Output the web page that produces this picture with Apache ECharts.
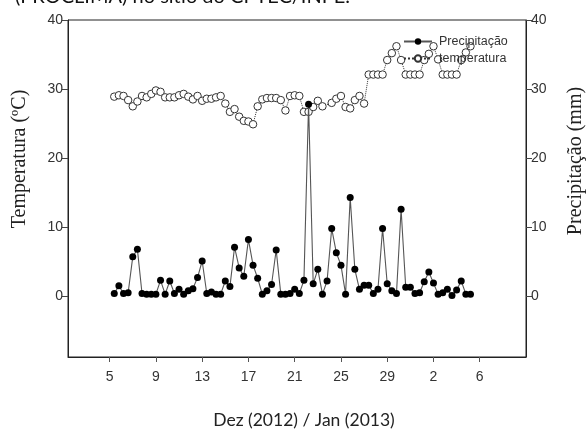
<!DOCTYPE html>
<html>
<head>
<meta charset="utf-8">
<title>Temperatura e Precipitação</title>
<script src="https://cdn.jsdelivr.net/npm/echarts@6/dist/echarts.min.js"></script>
<style>
  html, body { margin: 0; padding: 0; background: #fff; }
  #mychart { width: 587px; height: 430px; }
</style>
</head>
<body>
<div id="mychart"></div>
<script>
// eixo x: posição de cada rótulo (nº da leitura) e o texto do rótulo
var xTickPos = [0, 10, 20, 30, 40, 50, 60, 70, 80];
var xTickLabels = ['5', '9', '13', '17', '21', '25', '29', '2', '6'];
var yTicks = [0, 10, 20, 30, 40];

// precipitação (mm), uma leitura por posição
var precipitacao = [
  0.4, 1.5, 0.4, 0.5, 5.7, 6.8, 0.4, 0.3, 0.3, 0.3,
  2.3, 0.3, 2.2, 0.4, 1.0, 0.3, 0.8, 1.1, 2.7, 5.1,
  0.4, 0.6, 0.3, 0.3, 2.2, 1.4, 7.1, 4.1, 2.9, 8.2,
  4.5, 2.6, 0.3, 0.8, 1.7, 6.7, 0.3, 0.3, 0.4, 1.0,
  0.4, 2.3, 27.8, 1.8, 3.9, 0.3, 2.2, 9.8, 6.3, 4.5,
  0.3, 14.3, 3.9, 1.0, 1.6, 1.6, 0.4, 1.0, 9.8, 1.8,
  0.8, 0.4, 12.6, 1.3, 1.3, 0.4, 0.5, 2.1, 3.5, 1.9,
  0.3, 0.5, 1.0, 0.1, 0.9, 2.2, 0.3, 0.3
];

// temperatura (ºC), '-' = sem leitura
var temperatura = [
  28.9, 29.1, 29.0, 28.4, 27.5, 28.2, 29.0, 28.8, 29.3, 29.8,
  29.6, 28.8, 28.8, 28.8, 29.1, 29.3, 28.9, 28.5, 29.0, 28.3,
  28.6, 28.6, 28.8, 29.0, 27.9, 26.7, 27.1, 26.0, 25.4, 25.3,
  24.9, 27.5, 28.5, 28.7, 28.7, 28.7, 28.4, 26.9, 29.0, 29.1,
  29.0, 26.7, 26.7, 27.4, 28.3, 27.5, '-', 28.0, 28.6, 29.0,
  27.4, 27.2, 28.4, 29.0, 27.9, 32.1, 32.1, 32.1, 32.1, 34.2,
  35.2, 36.2, 34.2, 32.1, 32.1, 32.1, 32.1, 34.2, 35.1, 36.2,
  34.3, 32.1, 32.1, 32.1, 32.1, 34.2, 35.3, 36.2
];

var Chart = null;

// [posição, valor]
function toPairs(arr) {
  var out = [];
  for (var i = 0; i < arr.length; i++) {
    out.push([i + 1, arr[i]]);
  }
  return out;
}

function yAxisCfg(pos) {
  return {
    type: 'value',
    position: pos,
    min: -8.8,
    max: 40,
    axisLine: { show: true, onZero: false, lineStyle: { color: '#222', width: 1 } },
    axisTick: { show: true, length: 6, customValues: yTicks, lineStyle: { color: '#444' } },
    axisLabel: {
      customValues: yTicks,
      margin: pos == 'left' ? 5 : 5,
      color: '#333',
      fontSize: 14,
      fontFamily: 'Liberation Sans'
    },
    splitLine: { show: false }
  };
}

function getOption() {
  var option = {
    animation: false,
    grid: {
      left: 68,
      right: 61,
      top: 20,
      bottom: 73,
      show: true,
      borderColor: '#222',
      borderWidth: 1
    },
    legend: {
      data: ['Precipitação', 'temperatura'],
      orient: 'vertical',
      left: 398,
      top: 30,
      itemWidth: 28,
      itemHeight: 8,
      itemGap: 4,
      textStyle: {
        fontFamily: 'Liberation Sans',
        fontSize: 12.5,
        color: '#333',
        padding: [0, 0, 0, 2]
      }
    },
    xAxis: {
      type: 'value',
      min: -9,
      max: 90,
      axisLine: { show: true, onZero: false, lineStyle: { color: '#222', width: 1 } },
      axisTick: { show: true, length: 5, customValues: xTickPos, lineStyle: { color: '#555' } },
      axisLabel: {
        customValues: xTickPos,
        formatter: function (v) {
          return xTickLabels[xTickPos.indexOf(v)];
        },
        margin: 13,
        color: '#333',
        fontSize: 14,
        fontFamily: 'Liberation Sans'
      },
      splitLine: { show: false }
    },
    yAxis: [yAxisCfg('left'), yAxisCfg('right')],
    series: [
      {
        name: 'temperatura',
        type: 'line',
        yAxisIndex: 0,
        data: toPairs(temperatura),
        connectNulls: true,
        symbol: 'circle',
        symbolSize: 7.5,
        itemStyle: { color: '#fff', borderColor: '#333', borderWidth: 1 },
        lineStyle: { type: 'dotted', width: 1, color: '#333' },
        z: 2
      },
      {
        name: 'Precipitação',
        type: 'line',
        yAxisIndex: 1,
        data: toPairs(precipitacao),
        symbol: 'circle',
        symbolSize: 7,
        itemStyle: { color: '#000' },
        lineStyle: { width: 1.1, color: '#555' },
        z: 3
      }
    ],
    graphic: [
      {
        type: 'text',
        x: 350,
        y: -3,
        style: {
          text: '(PROCLIMA) no sítio do CPTEC/INPE.',
          font: '20px Lato',
          fill: '#111',
          align: 'right',
          verticalAlign: 'middle'
        }
      },
      {
        type: 'text',
        x: 20,
        y: 159,
        rotation: Math.PI / 2,
        style: {
          text: 'Temperatura (ºC)',
          font: '20px "Liberation Serif"',
          fill: '#222',
          align: 'center',
          verticalAlign: 'middle'
        }
      },
      {
        type: 'text',
        x: 576,
        y: 161,
        rotation: Math.PI / 2,
        style: {
          text: 'Precipitação (mm)',
          font: '20px "Liberation Serif"',
          fill: '#222',
          align: 'center',
          verticalAlign: 'middle'
        }
      },
      {
        type: 'text',
        x: 304,
        y: 420,
        style: {
          text: 'Dez (2012) / Jan (2013)',
          font: '17.5px Lato',
          fill: '#222',
          align: 'center',
          verticalAlign: 'middle'
        }
      }
    ]
  };
  return option;
}

Chart = echarts.init(document.getElementById('mychart'), null, { renderer: 'canvas' });
Chart.setOption(getOption());
</script>
</body>
</html>
